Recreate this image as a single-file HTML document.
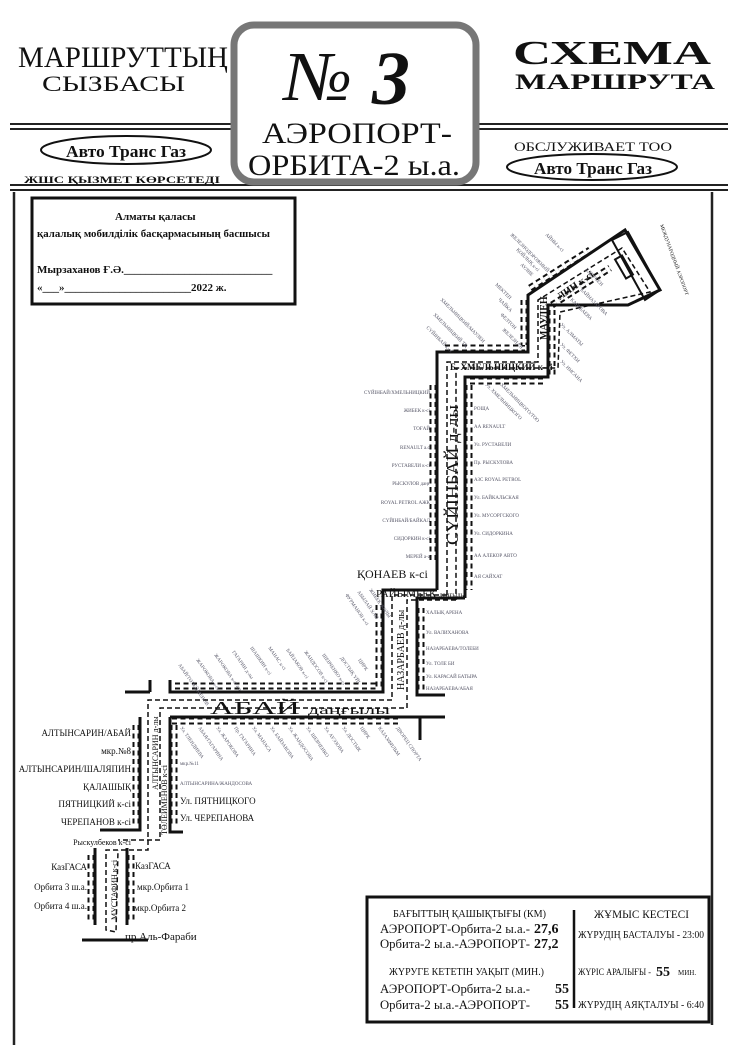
<!DOCTYPE html>
<html><head><meta charset="utf-8"><style>
html,body{margin:0;padding:0;background:#fff;width:740px;height:1049px;overflow:hidden}
svg{display:block}
text{font-family:"Liberation Serif",serif;fill:#111}
.s{font-size:5px;fill:#556}
</style></head><body>
<svg width="740" height="1049" viewBox="0 0 740 1049" xmlns="http://www.w3.org/2000/svg">
<text x="18" y="67" font-size="30" textLength="210" lengthAdjust="spacingAndGlyphs">МАРШРУТТЫҢ</text>
<text x="42" y="91" font-size="22" textLength="143" lengthAdjust="spacingAndGlyphs">СЫЗБАСЫ</text>
<text x="513" y="64" font-size="34" font-weight="bold" textLength="198" lengthAdjust="spacingAndGlyphs">СХЕМА</text>
<text x="515" y="89" font-size="22" font-weight="bold" textLength="200" lengthAdjust="spacingAndGlyphs">МАРШРУТА</text>
<g stroke="#222" stroke-width="2">
<line x1="10" y1="124" x2="232" y2="124"/><line x1="10" y1="129" x2="232" y2="129"/>
<line x1="476" y1="124" x2="728" y2="124"/><line x1="476" y1="129" x2="728" y2="129"/>
<line x1="10" y1="185" x2="728" y2="185"/><line x1="10" y1="190" x2="728" y2="190"/>
</g>
<rect x="234" y="25" width="242" height="157" rx="20" fill="#fff" stroke="#777" stroke-width="7"/>
<text x="284" y="100" font-size="70" font-style="italic" textLength="68" lengthAdjust="spacingAndGlyphs">№</text>
<text x="372" y="104" font-size="76" font-weight="bold" font-style="italic">3</text>
<text x="262" y="143" font-size="30" textLength="190" lengthAdjust="spacingAndGlyphs">АЭРОПОРТ-</text>
<text x="248" y="175" font-size="30" textLength="212" lengthAdjust="spacingAndGlyphs">ОРБИТА-2 ы.а.</text>
<ellipse cx="126" cy="150" rx="85" ry="14" fill="none" stroke="#111" stroke-width="2"/>
<text x="66" y="157" font-size="17" font-weight="bold" textLength="120" lengthAdjust="spacingAndGlyphs">Авто Транс Газ</text>
<text x="24" y="183" font-size="9" font-weight="bold" textLength="196" lengthAdjust="spacingAndGlyphs">ЖШС ҚЫЗМЕТ КӨРСЕТЕДІ</text>
<text x="514" y="151" font-size="13" textLength="158" lengthAdjust="spacingAndGlyphs">ОБСЛУЖИВАЕТ ТОО</text>
<ellipse cx="592" cy="167" rx="85" ry="13" fill="none" stroke="#111" stroke-width="2"/>
<text x="534" y="174" font-size="17" font-weight="bold" textLength="118" lengthAdjust="spacingAndGlyphs">Авто Транс Газ</text>
<g stroke="#222" stroke-width="2.5" fill="none">
<line x1="14" y1="192" x2="14" y2="1045"/>
<line x1="712" y1="192" x2="712" y2="1025"/>
</g>
<rect x="32" y="198" width="263" height="106" fill="none" stroke="#111" stroke-width="3"/>
<text x="115" y="220" font-size="11" font-weight="bold">Алматы қаласы</text>
<text x="37" y="237" font-size="11" font-weight="bold" textLength="233" lengthAdjust="spacingAndGlyphs">қалалық мобилділік басқармасының басшысы</text>
<text x="37" y="273" font-size="11" font-weight="bold">Мырзаханов Ғ.Ә.___________________________</text>
<text x="37" y="291" font-size="11" font-weight="bold">«___»_______________________2022 ж.</text>

<g fill="none" stroke="#111">
<g id="bumps" stroke-width="7" stroke-dasharray="5 3.5">
<line x1="433" y1="385" x2="433" y2="560"/>
<line x1="469" y1="385" x2="469" y2="590"/>
<line x1="445" y1="348" x2="525" y2="348"/>
<line x1="470" y1="381" x2="545" y2="381"/>
<line x1="524" y1="300" x2="524" y2="345"/>
<line x1="552" y1="310" x2="552" y2="375"/>
<line x1="530" y1="288" x2="590" y2="250"/>
<line x1="552" y1="305" x2="610" y2="268"/>
<line x1="379" y1="605" x2="379" y2="690"/>
<line x1="421" y1="608" x2="421" y2="690"/>
<line x1="175" y1="686" x2="378" y2="686"/>
<line x1="172" y1="721" x2="400" y2="721"/>
<line x1="136" y1="725" x2="136" y2="825"/>
<line x1="174" y1="725" x2="174" y2="825"/>
<line x1="91" y1="855" x2="91" y2="920"/>
<line x1="131" y1="855" x2="131" y2="920"/>
</g>
<g stroke="#fff" stroke-width="3" stroke-dasharray="5 3.5">
<line x1="433" y1="385" x2="433" y2="560"/>
<line x1="469" y1="385" x2="469" y2="590"/>
<line x1="445" y1="348" x2="525" y2="348"/>
<line x1="470" y1="381" x2="545" y2="381"/>
<line x1="524" y1="300" x2="524" y2="345"/>
<line x1="552" y1="310" x2="552" y2="375"/>
<line x1="530" y1="288" x2="590" y2="250"/>
<line x1="552" y1="305" x2="610" y2="268"/>
<line x1="379" y1="605" x2="379" y2="690"/>
<line x1="421" y1="608" x2="421" y2="690"/>
<line x1="175" y1="686" x2="378" y2="686"/>
<line x1="172" y1="721" x2="400" y2="721"/>
<line x1="136" y1="725" x2="136" y2="825"/>
<line x1="174" y1="725" x2="174" y2="825"/>
<line x1="91" y1="855" x2="91" y2="920"/>
<line x1="131" y1="855" x2="131" y2="920"/>
</g>
<g stroke-width="3">
<polyline points="437,590 437,352 528,352 528,295 625,230 660,290 628,305 548,305 548,377 465,377 465,598"/>
<polyline points="437,590 383,590 383,692 170,692 170,680"/>
<line x1="125" y1="692" x2="150" y2="692"/>
<line x1="150" y1="680" x2="150" y2="692"/>
<polyline points="465,598 417,598 417,695 445,695"/>
<polyline points="140,717 140,830 100,830"/>
<polyline points="170,717 420,717 445,717"/>
<line x1="420" y1="717" x2="420" y2="740"/>
<polyline points="170,717 170,832 183,832"/>
<polyline points="95,848 95,925"/>
<polyline points="127,848 127,925"/>
<line x1="82" y1="940" x2="148" y2="940"/>
<polygon points="612,240 628,232 660,290 645,300" stroke-width="2"/>
<rect x="620" y="256" width="8" height="22" transform="rotate(-30 624 267)" stroke-width="2"/>
</g>
<g stroke-width="1.5" stroke-dasharray="5 3">
<polyline points="447,595 447,362 538,362 538,300 622,248 650,292 560,312 558,368 456,368 456,600"/>
<polyline points="447,595 392,595 392,700 148,700 148,850 106,850 106,930 116,932 118,850"/>
<polyline points="456,600 407,600 407,708 160,708 160,840 118,840"/>
</g>
</g>
<text transform="translate(458,545) rotate(-90)" font-size="17" textLength="140" lengthAdjust="spacingAndGlyphs">СҮЙІНБАЙ д-лы</text>
<text x="450" y="370" font-size="9" font-weight="bold">Б. ХМЕЛЬНИЦКИЙ к-сі</text>
<text transform="translate(547,340) rotate(-90)" font-size="10" font-weight="bold">МАУЛЕН</text>
<text transform="translate(560,300) rotate(-35)" font-size="10" font-weight="bold">ЛИН к-сі</text>
<text x="357" y="578" font-size="12">ҚОНАЕВ к-сі</text>
<text x="376" y="597" font-size="11">РАЙЫМБЕК <tspan font-size="7">даңғылы</tspan></text>
<text transform="translate(404,690) rotate(-90)" font-size="10">НАЗАРБАЕВ д-лы</text>
<text x="210" y="714" font-size="18" textLength="180" lengthAdjust="spacingAndGlyphs">АБАЙ <tspan font-size="12">даңғылы</tspan></text>
<text transform="translate(158,790) rotate(-90)" font-size="8">АЛТЫНСАРИН д-лы</text>
<text transform="translate(167,835) rotate(-90)" font-size="8">ТӨЛЕЙМЕНОВ к-сі</text>
<text transform="translate(117,920) rotate(-90)" font-size="8">МУСТАФИН к-сі</text>
<text transform="translate(660,225) rotate(70)" font-size="5" fill="#556">МЕЖДУНАРОДНЫЙ АЭРОПОРТ</text>
<g font-size="9" text-anchor="end">
<text x="131" y="736">АЛТЫНСАРИН/АБАЙ</text>
<text x="131" y="754">мкр.№8</text>
<text x="131" y="772">АЛТЫНСАРИН/ШАЛЯПИН</text>
<text x="131" y="790">ҚАЛАШЫҚ</text>
<text x="131" y="807">ПЯТНИЦКИЙ к-сі</text>
<text x="131" y="825">ЧЕРЕПАНОВ к-сі</text>
<text x="131" y="845" font-size="8">Рыскулбеков к-сі</text>
<text x="87" y="870">КазГАСА</text>
<text x="87" y="890">Орбита 3 ш.а.</text>
<text x="87" y="909">Орбита 4 ш.а.</text>
</g>
<g font-size="9">
<text x="135" y="869">КазГАСА</text>
<text x="137" y="890">мкр.Орбита 1</text>
<text x="134" y="911">мкр.Орбита 2</text>
<text x="125" y="940" font-size="11">пр.Аль-Фараби</text>
<text x="180" y="804">Ул. ПЯТНИЦКОГО</text>
<text x="180" y="821">Ул. ЧЕРЕПАНОВА</text>
<text x="180" y="785" class="s">АЛТЫНСАРИНА/ЖАНДОСОВА</text>
<text x="180" y="765" class="s">мкр.№11</text>
</g>
<g class="s" text-anchor="end">
<text x="430" y="394" class="s">СҮЙІНБАЙ/ХМЕЛЬНИЦКИЙ</text>
<text x="430" y="412" class="s">ЖИБЕК к-сі</text>
<text x="430" y="430" class="s">ТОҒАЙ</text>
<text x="430" y="449" class="s">RENAULT а.о</text>
<text x="430" y="467" class="s">РУСТАВЕЛИ к-сі</text>
<text x="430" y="485" class="s">РЫСКУЛОВ даңғ</text>
<text x="430" y="504" class="s">ROYAL PETROL АЖҚ</text>
<text x="430" y="522" class="s">СҮЙІНБАЙ/БАЙКАЛ</text>
<text x="430" y="540" class="s">СИДОРКИН к-сі</text>
<text x="430" y="558" class="s">МЕРЕЙ а-а</text>
</g>
<g>
<text x="474" y="410" class="s">РОЩА</text>
<text x="474" y="428" class="s">АА RENAULT</text>
<text x="474" y="446" class="s">Ул. РУСТАВЕЛИ</text>
<text x="474" y="464" class="s">Пр. РЫСКУЛОВА</text>
<text x="474" y="481" class="s">АЗС ROYAL PETROL</text>
<text x="474" y="499" class="s">Ул. БАЙКАЛЬСКАЯ</text>
<text x="474" y="517" class="s">Ул. МУСОРГСКОГО</text>
<text x="474" y="535" class="s">Ул. СИДОРКИНА</text>
<text x="474" y="557" class="s">АА АЛЕКОР АВТО</text>
<text x="474" y="578" class="s">АЯ САЙХАТ</text>
<text x="426" y="614" class="s">ХАЛЫҚ АРЕНА</text>
<text x="426" y="634" class="s">Ул. ВАЛИХАНОВА</text>
<text x="426" y="650" class="s">НАЗАРБАЕВА/ТОЛЕБИ</text>
<text x="426" y="665" class="s">Ул. ТОЛЕ БИ</text>
<text x="426" y="678" class="s">Ул. КАРАСАЙ БАТЫРА</text>
<text x="426" y="690" class="s">НАЗАРБАЕВА/АБАЯ</text>
</g>
<g class="s">
<text transform="translate(178,665) rotate(55)" class="s">АБАЙ/ТӨЛЕЙМЕНОВ</text>
<text transform="translate(196,660) rotate(55)" class="s">ЖАРОКОВА к-сі</text>
<text transform="translate(214,655) rotate(55)" class="s">ЖАРОКОВА к-сі а.о</text>
<text transform="translate(232,652) rotate(55)" class="s">ГАГАРИН д-лы</text>
<text transform="translate(250,648) rotate(55)" class="s">ШАШКИН к-сі</text>
<text transform="translate(268,648) rotate(55)" class="s">МАНАС к-сі</text>
<text transform="translate(286,650) rotate(55)" class="s">БАЙЗАКОВ к-сі</text>
<text transform="translate(304,652) rotate(55)" class="s">ЖАНДОСОВ к-сі</text>
<text transform="translate(322,655) rotate(55)" class="s">ШЕВЧЕНКО к-сі</text>
<text transform="translate(340,658) rotate(55)" class="s">ДОСТЫҚ ҮЙІ</text>
<text transform="translate(358,660) rotate(55)" class="s">ЦИРК</text>
<text transform="translate(345,595) rotate(55)" class="s">ФУРМАНОВ к-сі</text>
<text transform="translate(357,592) rotate(55)" class="s">АБЫЛАЙ ХАН</text>
<text transform="translate(369,590) rotate(55)" class="s">ЖИБЕК ЖОЛЫ</text>
<text transform="translate(180,728) rotate(55)" class="s">Ул. ТЛЕНДИЕВА</text>
<text transform="translate(198,728) rotate(55)" class="s">АБАЯ/ГАГАРИНА</text>
<text transform="translate(216,728) rotate(55)" class="s">Ул. ЖАРОКОВА</text>
<text transform="translate(234,728) rotate(55)" class="s">Пр. ГАГАРИНА</text>
<text transform="translate(252,728) rotate(55)" class="s">Ул. МАНАСА</text>
<text transform="translate(270,728) rotate(55)" class="s">Ул. БАЙЗАКОВА</text>
<text transform="translate(288,728) rotate(55)" class="s">Ул. ЖАНДОСОВА</text>
<text transform="translate(306,728) rotate(55)" class="s">Ул. ШЕВЧЕНКО</text>
<text transform="translate(324,728) rotate(55)" class="s">Ул. АУЭЗОВА</text>
<text transform="translate(342,728) rotate(55)" class="s">Ул. ДОСТЫК</text>
<text transform="translate(360,728) rotate(55)" class="s">ЦИРК</text>
<text transform="translate(378,728) rotate(55)" class="s">КАЗАХФИЛЬМ</text>
<text transform="translate(396,728) rotate(55)" class="s">ДВОРЕЦ СПОРТА</text>
<text transform="translate(440,300) rotate(45)" class="s">ХМЕЛЬНИЦКИЙ/МАУЛЕН</text>
<text transform="translate(433,315) rotate(45)" class="s">ХМЕЛЬНИЦКИЙ ТҚ</text>
<text transform="translate(426,328) rotate(45)" class="s">СҮЙІНБАЙ к-сі</text>
<text transform="translate(495,285) rotate(45)" class="s">МЕКТЕП</text>
<text transform="translate(498,300) rotate(45)" class="s">ЧАЙКА</text>
<text transform="translate(500,315) rotate(45)" class="s">ФЕЛТОН</text>
<text transform="translate(502,330) rotate(45)" class="s">ЖЕЛЕЗНАЯ</text>
<text transform="translate(510,235) rotate(45)" class="s">ЖЕЛЕЗНОДОРОЖНЫЙ</text>
<text transform="translate(516,250) rotate(45)" class="s">ҚОЙЛЫҚ к-сі</text>
<text transform="translate(520,265) rotate(45)" class="s">АУЛИЕ</text>
<text transform="translate(545,235) rotate(45)" class="s">АЙНЫ к-сі</text>
<text transform="translate(580,290) rotate(45)" class="s">БАЙНАЗАРОВА</text>
<text transform="translate(585,270) rotate(45)" class="s">ЕЛЕУСЕН</text>
<text transform="translate(570,300) rotate(45)" class="s">КАРАБАЕВА</text>
<text transform="translate(560,325) rotate(45)" class="s">Ул. АЛМАТЫ</text>
<text transform="translate(560,345) rotate(45)" class="s">Ул. ФЕТХИ</text>
<text transform="translate(560,362) rotate(45)" class="s">Ул. ИНСАНА</text>
<text transform="translate(485,385) rotate(45)" class="s">Ул. ХМЕЛЬНИЦКОГО</text>
<text transform="translate(500,385) rotate(45)" class="s">ХМЕЛЬНИЦКОГО/ТОО</text>
</g>
<rect x="367" y="897" width="342" height="125" fill="none" stroke="#111" stroke-width="3"/>
<line x1="574" y1="910" x2="574" y2="1008" stroke="#111" stroke-width="2.5"/>
<text x="393" y="917" font-size="10" textLength="153" lengthAdjust="spacingAndGlyphs">БАҒЫТТЫҢ ҚАШЫҚТЫҒЫ (КМ)</text>
<text x="380" y="933" font-size="13" textLength="150" lengthAdjust="spacingAndGlyphs">АЭРОПОРТ-Орбита-2 ы.а.-</text>
<text x="534" y="933" font-size="14" font-weight="bold">27,6</text>
<text x="380" y="948" font-size="13" textLength="150" lengthAdjust="spacingAndGlyphs">Орбита-2 ы.а.-АЭРОПОРТ-</text>
<text x="534" y="948" font-size="14" font-weight="bold">27,2</text>
<text x="389" y="975" font-size="10" textLength="155" lengthAdjust="spacingAndGlyphs">ЖҮРУГЕ КЕТЕТІН УАҚЫТ (МИН.)</text>
<text x="380" y="993" font-size="13" textLength="150" lengthAdjust="spacingAndGlyphs">АЭРОПОРТ-Орбита-2 ы.а.-</text>
<text x="555" y="993" font-size="14" font-weight="bold">55</text>
<text x="380" y="1009" font-size="13" textLength="150" lengthAdjust="spacingAndGlyphs">Орбита-2 ы.а.-АЭРОПОРТ-</text>
<text x="555" y="1009" font-size="14" font-weight="bold">55</text>
<text x="594" y="918" font-size="12" textLength="95" lengthAdjust="spacingAndGlyphs">ЖҰМЫС КЕСТЕСІ</text>
<text x="578" y="938" font-size="10" textLength="126" lengthAdjust="spacingAndGlyphs">ЖҮРУДІҢ БАСТАЛУЫ - 23:00</text>
<text x="578" y="975" font-size="9" textLength="73" lengthAdjust="spacingAndGlyphs">ЖҮРІС АРАЛЫҒЫ -</text>
<text x="656" y="976" font-size="14" font-weight="bold">55</text>
<text x="678" y="975" font-size="7">МИН.</text>
<text x="578" y="1008" font-size="10" textLength="126" lengthAdjust="spacingAndGlyphs">ЖҮРУДІҢ АЯҚТАЛУЫ - 6:40</text>
</svg>
</body></html>
